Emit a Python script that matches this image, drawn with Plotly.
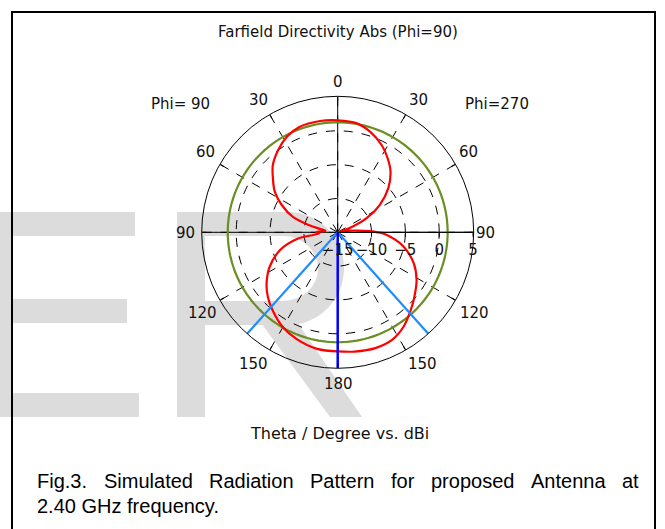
import plotly.graph_objects as go

# ---- farfield directivity cut (dBi) -------------------------------------
# theta in degrees, one list per half-plane of the cut
theta_phi270 = [0, 10, 18, 27, 34, 41, 49, 57, 64, 70, 74, 77, 81, 85, 88, 90,
                93, 102, 112, 121, 130, 137, 145, 153, 162, 172, 180]
dir_phi270 = [1.55, 1.35, 0.6, -0.6, -1.8, -3.1, -5.1, -7.6, -10.3, -13.1, -14.8,
              -14.9, -13.6, -12.0, -10.3, -9.1, -7.8, -5.1, -2.9, -1.4, -0.2,
              0.8, 2.0, 2.8, 3.0, 2.8, 2.6]

theta_phi90 = [0, 9, 20, 28, 36, 44, 50, 57, 64, 71, 76, 79, 83, 87, 90, 93,
               96, 99, 107, 117, 126, 133, 140, 150, 159, 170, 180]
dir_phi90 = [1.55, 1.65, 1.55, 1.0, 0.0, -1.2, -2.5, -3.9, -5.8, -8.0, -10.7,
             -12.4, -13.2, -12.3, -11.8, -12.3, -11.5, -9.0, -6.1, -3.7, -2.0,
             -0.9, 0.0, 1.2, 1.9, 2.5, 2.6]

ref_level_db = 1.25         # reference level circle
main_lobe_dir = 180.0       # main lobe direction, deg
beam_width_3db = 83.5       # angular width (3 dB), deg

r_min, r_max = -15, 5.1
radial_ticks = [-15, -10, -5, 0, 5]
angle_ticks = list(range(0, 360, 30))
angle_labels = ["0", "30", "60", "90", "120", "150", "180",
                "150", "120", "90", "60", "30"]

W, H = 665, 529
FONT = "DejaVu Sans"


def px(x, y):
    """pixel position -> paper fraction (margins are zero)"""
    return x / W, 1 - y / H


# plot angle: Phi=270 half on the right, Phi=90 half mirrored on the left
curve_theta = theta_phi270 + [360 - t for t in reversed(theta_phi90)]
curve_r = dir_phi270 + list(reversed(dir_phi90))

fig = go.Figure()

# solid axis lines through the centre (0 / 90 / 270)
for ang in (0, 90, 270):
    fig.add_trace(go.Scatterpolar(theta=[ang, ang], r=[r_min, r_max], mode="lines",
                                  line=dict(color="black", width=1),
                                  hoverinfo="skip", showlegend=False))

circle_theta = list(range(0, 361, 2))
fig.add_trace(go.Scatterpolar(theta=circle_theta, r=[ref_level_db] * len(circle_theta),
                              mode="lines", line=dict(color="#6b8e23", width=2.2),
                              showlegend=False))

fig.add_trace(go.Scatterpolar(theta=curve_theta, r=curve_r, mode="lines",
                              line=dict(color="#ff0000", width=2.2, shape="spline",
                                        smoothing=1.0),
                              showlegend=False))

for ang in (main_lobe_dir - beam_width_3db / 2, main_lobe_dir + beam_width_3db / 2):
    fig.add_trace(go.Scatterpolar(theta=[ang, ang], r=[r_min, r_max], mode="lines",
                                  line=dict(color="#1e8cff", width=2.2),
                                  showlegend=False))
fig.add_trace(go.Scatterpolar(theta=[main_lobe_dir, main_lobe_dir], r=[r_min, r_max],
                              mode="lines", line=dict(color="#0000ff", width=2.5),
                              showlegend=False))

# ---- background lettering "ER" ------------------------------------------
grey = "#dcdcdc"
shapes = []


def box(kind, x0, y0, x1, y1, color, layer="below", line=None):
    a, b = px(x0, y0)
    c, d = px(x1, y1)
    shapes.append(dict(type=kind, xref="paper", yref="paper",
                       x0=a, y0=d, x1=c, y1=b, fillcolor=color,
                       line=line or dict(width=0), layer=layer))


# E
for (x0, y0, x1, y1) in [(0, 212, 13, 417), (13, 212, 135, 236),
                         (13, 299, 127, 323), (13, 393, 139, 417)]:
    box("rect", x0, y0, x1, y1, grey)
# R: stem, bowl, counter, leg
box("rect", 177, 212, 205, 417, grey)
box("rect", 205, 212, 288, 325, grey)
box("circle", 231, 212, 344, 325, grey)
box("rect", 205, 236, 283, 301, "white")
box("circle", 248, 236, 318, 301, "white")
leg_pts = [(256, 316), (293, 316), (362, 417), (330, 417)]
leg_path = "M{:.5f},{:.5f}".format(*px(*leg_pts[0]))
for p in leg_pts[1:]:
    leg_path += " L{:.5f},{:.5f}".format(*px(*p))
leg_path += " Z"
shapes.append(dict(type="path", xref="paper", yref="paper", path=leg_path,
                   fillcolor=grey, line=dict(width=0), layer="below"))

# frame
box("rect", 12, 12, 655, 545, "rgba(0,0,0,0)", layer="above",
    line=dict(color="black", width=2))

# ---- texts --------------------------------------------------------------
annotations = []


def label(text, x, y, size, family=FONT, xanchor="center", color="#111111"):
    ax, ay = px(x, y)
    annotations.append(dict(text=text, x=ax, y=ay, xref="paper", yref="paper",
                            xanchor=xanchor, yanchor="middle", showarrow=False,
                            font=dict(family=family, size=size, color=color)))


label("Farfield Directivity Abs (Phi=90)", 338, 32, 15)
label("Phi= 90", 180, 104, 15)
label("Phi=270", 497, 104, 15)
label("Theta / Degree vs. dBi", 339, 433, 16)

# angular scale labels
angle_label_pos = [(338, 82), (418, 100), (468, 152), (485, 233), (474, 313),
                   (422, 364), (338, 384), (253, 364), (202, 313), (185, 233),
                   (205, 152), (258, 100)]
for txt, (x, y) in zip(angle_labels, angle_label_pos):
    label(txt, x, y, 15)

caption_words = ["Fig.3.", "Simulated", "Radiation", "Pattern", "for",
                 "proposed", "Antenna", "at"]
caption_x = [35, 101.6, 207.2, 308.3, 389.4, 429.3, 529.3, 620.4]
for w, x in zip(caption_words, caption_x):
    label(w, x, 481, 20, family="Liberation Sans", xanchor="left", color="black")
label("2.40 GHz frequency.", 35, 506, 20, family="Liberation Sans", xanchor="left",
      color="black")

cx0, cy0 = px(201.7, 368.3)
cx1, cy1 = px(473.7, 96.3)

fig.update_layout(
    width=W, height=H,
    margin=dict(l=0, r=0, t=0, b=0),
    paper_bgcolor="white",
    showlegend=False,
    shapes=shapes,
    annotations=annotations,
    polar=dict(
        domain=dict(x=[cx0, cx1], y=[cy0, cy1]),
        bgcolor="rgba(0,0,0,0)",
        angularaxis=dict(
            rotation=90, direction="clockwise",
            tickmode="array", tickvals=angle_ticks, ticktext=angle_labels,
            showticklabels=False,
            showline=True, linecolor="black", linewidth=1,
            showgrid=True, gridcolor="black", gridwidth=1, griddash="dash",
            ticks="inside", ticklen=4, tickcolor="black",
        ),
        radialaxis=dict(
            range=[r_min, r_max], angle=0, side="clockwise",
            tickmode="array", tickvals=radial_ticks,
            showline=True, linecolor="black", linewidth=1,
            showgrid=True, gridcolor="black", gridwidth=1, griddash="dash",
            ticks="outside", ticklen=4, tickcolor="black",
            tickfont=dict(family=FONT, size=15, color="#111111"),
        ),
    ),
)

fig.write_html("out.html")
